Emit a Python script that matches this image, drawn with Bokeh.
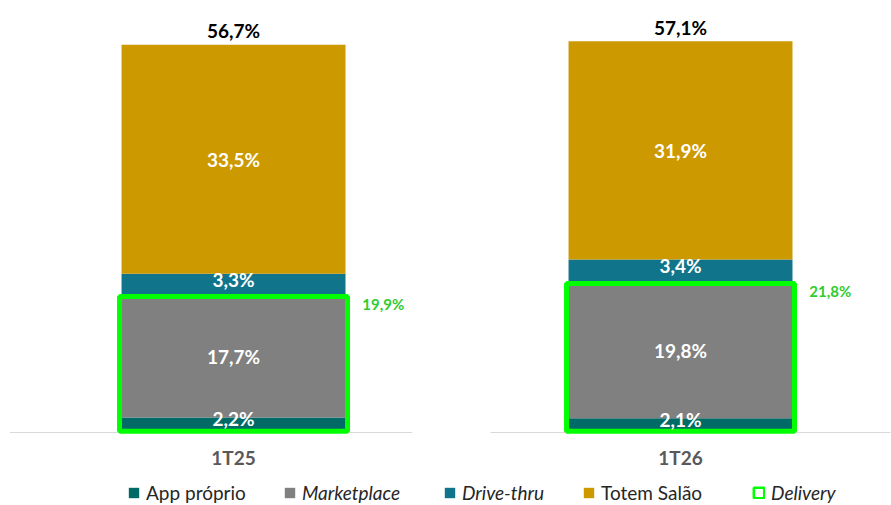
from bokeh.plotting import figure
from bokeh.models import Range1d, ColumnDataSource, Legend, LegendItem
from bokeh.core.properties import value
from bokeh.embed import file_html
from bokeh.resources import INLINE

# ---- data ----
categories = ["1T25", "1T26"]
app_proprio = [2.2, 2.1]
marketplace = [17.7, 19.8]
drive_thru = [3.3, 3.4]
totem_salao = [33.5, 31.9]
totals = [56.7, 57.1]
delivery = [19.9, 21.8]
series_labels = ["App próprio", "Marketplace", "Drive-thru", "Totem Salão", "Delivery"]

# ---- styles ----
colors = ["#006A66", "#808080", "#10758A", "#CC9900"]
green_line = "#00FF00"
green_text = "#2ECC2E"
FONT = "Lato"


def fmt(v):
    return f"{v:.1f}".replace(".", ",") + "%"


xs = list(range(len(categories)))
src = ColumnDataSource(dict(
    x=xs, app=app_proprio, mkt=marketplace, drive=drive_thru, totem=totem_salao,
    total=totals, delivery=delivery,
))

p = figure(width=891, height=505, x_range=Range1d(-0.5213, 1.472), y_range=Range1d(-10.67, 63.16),
           output_backend="svg", toolbar_location=None, x_axis_type=None, y_axis_type=None,
           min_border=0, outline_line_color=None)
p.xgrid.visible = False
p.ygrid.visible = False

stack_keys = ["app", "mkt", "drive", "totem"]
bars = p.vbar_stack(stack_keys, x="x", width=0.501, color=colors, line_color=None, source=src)

# baseline segments (one under each category)
p.segment(x0=[xs[0] - 0.5, xs[1] - 0.425], x1=[xs[0] + 0.40, xs[1] + 0.47], y0=[0, 0], y1=[0, 0],
          line_color="#D9D9D9", line_width=1)

# delivery box
p.vbar(x="x", bottom=0.2, top="delivery", width=0.51, fill_alpha=0, line_color=green_line,
       line_width=5, source=src)
# legend proxy for the delivery box (thinner outline, not drawn on the plot)
deliv_proxy = p.vbar(x="x", bottom=0, top="delivery", width=0.51, fill_alpha=0,
                     line_color=green_line, line_width=2.5, source=src, visible=False)

# segment labels
series_vals = [app_proprio, marketplace, drive_thru, totem_salao]
label_offsets = [-6, 0, -6, 0]
lx, ly, lt, lo = [], [], [], []
for i in xs:
    base = 0.0
    for s, vals in enumerate(series_vals):
        v = vals[i]
        lx.append(i)
        ly.append(base + v / 2)
        lt.append(fmt(v))
        lo.append(label_offsets[s])
        base += v
p.text(x=lx, y=ly, text=lt, y_offset=lo, text_font=value(FONT), text_font_style="bold",
       text_font_size="19px", text_color="white", text_align="center", text_baseline="middle")

# totals
p.text(x=xs, y=totals, text=[fmt(v) for v in totals], y_offset=-3, text_font=value(FONT),
       text_font_style="bold", text_font_size="19px", text_color="#000000",
       text_align="center", text_baseline="bottom")

# delivery labels
p.text(x=[i + 0.335 for i in xs], y=delivery, text=[fmt(v) for v in delivery], y_offset=8,
       text_font=value(FONT), text_font_style="bold", text_font_size="15px", text_color=green_text,
       text_align="center", text_baseline="middle")

# category labels
p.text(x=xs, y=[0] * len(xs), text=categories, y_offset=25, text_font=value(FONT),
       text_font_style="bold", text_font_size="19px", text_color="#595959",
       text_align="center", text_baseline="middle")

# legends (one per item so italics can differ)
legend_renderers = list(bars) + [deliv_proxy]
legend_x = [127, 283, 443, 582, 752]
legend_style = ["normal", "italic", "italic", "normal", "italic"]
for lab, r, lxp, st in zip(series_labels, legend_renderers, legend_x, legend_style):
    leg = Legend(items=[LegendItem(label=lab, renderers=[r])], location=(lxp, 1),
                 orientation="horizontal", glyph_width=13, glyph_height=13, label_standoff=6,
                 padding=0, margin=0, spacing=0, label_height=18,
                 background_fill_alpha=0, border_line_alpha=0,
                 label_text_font=FONT, label_text_font_size="19px", label_text_color="#262626",
                 label_text_font_style=st)
    p.add_layout(leg)

open("out.html", "w").write(file_html(p, INLINE))
